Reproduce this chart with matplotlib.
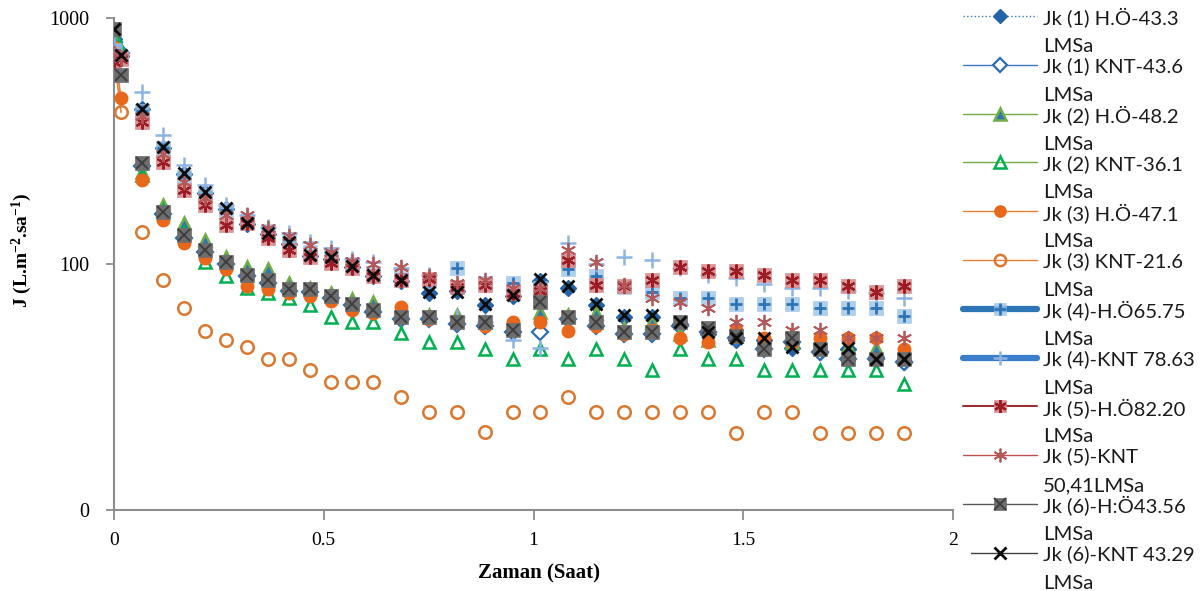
import numpy as np
import matplotlib
matplotlib.use("Agg")
import matplotlib.pyplot as plt
from matplotlib.lines import Line2D

# ---------------- data ----------------
time_min = [0, 1, 4, 7, 10, 13, 16, 19, 22, 25, 28, 31, 34, 37,
            41, 45, 49, 53, 57, 61, 65, 69, 73, 77, 81, 85, 89, 93, 97, 101, 105, 109, 113]

jk1_ho = [820, 700, 425, 297, 232, 195, 168, 145, 132, 121, 108, 105, 97, 89,
          85, 76, 78, 68, 74, 85, 80, 68, 61, 61, 57, 52, 49, 49, 45.6, 44, 45, 42, 40]
jk1_knt = [800, 720, 250, 160, 128, 112, 100, 89, 84, 78, 77, 73, 68, 64,
           60, 60, 57, 56, 53, 53, 60, 56, 52, 52, 56, 53, 50, 45, 48, 44, 41, 41, 40]
jk2_ho = [830, 740, 237, 174, 147, 125, 107, 97, 95, 84, 80, 76, 72, 70,
          63, 62, 62, 58, 55, 64, 62, 63, 55, 58, 52, 49, 51, 48, 48, 46, 46, 45.6, 42]
jk2_knt = [850, 740, 230, 165, 135, 102, 89, 80, 76, 73, 68, 61, 58, 58,
           52.5, 48, 48, 45, 41, 45, 41, 45, 41, 37, 45, 41, 41, 37, 37, 37, 37, 37, 32.5]
jk3_ho = [760, 473, 219, 151, 122, 106, 95, 81.5, 79, 76, 74, 71, 65, 63,
          67, 60, 58, 56, 58, 58, 53.5, 56, 52, 54, 50, 48, 54, 50, 48, 50, 50, 50, 45]
jk3_knt = [700, 415, 135, 86, 66, 53.5, 49, 46, 41, 41, 37, 33, 33, 33,
           28.8, 25, 25, 20.7, 25, 25, 28.8, 25, 25, 25, 25, 25, 20.5, 25, 25, 20.5, 20.5, 20.5, 20.5]
jk4_ho = [740, 690, 420, 295, 225, 190, 165, 150, 136, 126, 112, 110, 100, 92,
          91, 85, 96, 84, 84, 80, 95, 89, 81, 77, 73, 73, 69, 69, 69, 66, 66, 66, 61.5]
jk4_knt = [780, 720, 501, 334, 252, 210, 174, 158, 142, 134, 123, 116, 105, 102,
           96, 90, 61, 58, 49, 45.6, 122, 100, 107, 104, 96, 90, 88, 83, 80, 80, 78, 76, 73]
jk5_ho = [660, 680, 378, 260, 200, 174, 144, 147, 128, 114, 107, 101, 96, 89,
          86, 87, 81, 82, 76, 78, 104, 82, 81.5, 86, 97, 94, 94, 90, 86, 86, 81.5, 77, 81.5]
jk5_knt = [720, 690, 400, 280, 215, 185, 158, 158, 140, 130, 120, 112, 103, 100,
           97, 89, 84, 86, 80, 80, 114, 102, 82, 73, 70, 66, 58, 58, 54, 54, 50, 50, 50]
jk6_ho = [900, 586, 257, 163, 131, 114, 102, 90, 86, 79, 79, 74, 69, 65,
          61, 61, 58, 58, 54, 70, 61, 58, 53, 53, 58, 55, 51, 45, 50, 45, 41, 41, 41]
jk6_knt = [900, 707, 427, 299, 234, 196, 169, 147, 134, 123, 109, 107, 98, 90,
           86, 77, 77, 69, 75, 87, 81.5, 69, 62, 62, 58, 53, 50, 50, 46, 45, 45.5, 41, 41]

series_labels = [
    ("Jk (1) H.Ö-43.3", "LMSa"),
    ("Jk (1) KNT-43.6", "LMSa"),
    ("Jk (2) H.Ö-48.2", "LMSa"),
    ("Jk (2) KNT-36.1", "LMSa"),
    ("Jk (3) H.Ö-47.1", "LMSa"),
    ("Jk (3) KNT-21.6", "LMSa"),
    ("Jk (4)-H.Ö65.75", "LMSa"),
    ("Jk (4)-KNT 78.63", "LMSa"),
    ("Jk (5)-H.Ö82.20", "LMSa"),
    ("Jk (5)-KNT", "50,41LMSa"),
    ("Jk (6)-H:Ö43.56", "LMSa"),
    ("Jk (6)-KNT 43.29", "LMSa"),
]
series_values = [jk1_ho, jk1_knt, jk2_ho, jk2_knt, jk3_ho, jk3_knt,
                 jk4_ho, jk4_knt, jk5_ho, jk5_knt, jk6_ho, jk6_knt]

xticks = [0, 0.5, 1, 1.5, 2]
xtick_labels = ["0", "0.5", "1", "1.5", "2"]
yticks = [10, 100, 1000]
ytick_labels = ["0", "100", "1000"]

# ---------------- styles ----------------
ast = (6, 2, 0)
styles = [
    dict(line=("#3F78C0", ":", 1.0), layers=[("D", 8, "#2563A8", "#2563A8", 1.0, 1.0)]),
    dict(line=("#3F78C0", "-", 1.0), layers=[("D", 8, "white", "#2E6DB4", 1.6, 1.0)]),
    dict(line=("#70AD47", "-", 1.0), layers=[("^", 9, "#2E75B6", "#70AD47", 1.8, 1.0)]),
    dict(line=("#70AD47", "-", 1.0), layers=[("^", 9, "none", "#00B050", 1.8, 1.0)]),
    dict(line=("#ED7D31", "-", 1.0), layers=[("o", 9, "#E8671A", "#E8671A", 1.0, 1.0)]),
    dict(line=("#ED7D31", "-", 1.0), layers=[("o", 9, "none", "#D9782E", 1.8, 1.0)]),
    dict(line=("#2E75B6", "-", 4.5), layers=[("s", 10, "#9DC3E6", "#9DC3E6", 0.5, 0.8),
                                          ("+", 9, "none", "#2E75B6", 2.0, 1.0)]),
    dict(line=("#3A7DC9", "-", 4.5), layers=[("+", 11, "none", "#8DB4E2", 1.8, 1.0)]),
    dict(line=("#A0262C", "-", 1.4), layers=[("s", 10, "#D68A8C", "#D68A8C", 0.5, 0.9),
                                          (ast, 10, "none", "#9B1C24", 1.6, 1.0)]),
    dict(line=("#C0504D", "-", 1.0), layers=[(ast, 11, "none", "#B5585A", 1.3, 1.0)]),
    dict(line=("#595959", "-", 1.0), layers=[("s", 10, "#6E6E6E", "#6E6E6E", 0.5, 1.0),
                                          ("x", 9, "none", "#3F3F3F", 1.4, 1.0)]),
    dict(line=("#404040", "-", 1.0), layers=[("x", 9, "none", "#0D0D0D", 2.0, 1.0)]),
]

plt.rcParams['mathtext.fontset'] = 'custom'
plt.rcParams['mathtext.rm'] = 'Liberation Serif:bold'
plt.rcParams['mathtext.bf'] = 'Liberation Serif:bold'
plt.rcParams['mathtext.default'] = 'bf'

W, H = 1202, 591
fig = plt.figure(figsize=(W / 100, H / 100), dpi=100)
ax = fig.add_axes([114 / W, 81 / H, 839 / W, 492 / H])

hours = np.array(time_min) / 60.0
for vals, st in zip(series_values, styles):
    c, ls, lw = st["line"]
    ax.plot(hours[:2], vals[:2], color=c, ls="-", lw=1.2, zorder=2)
    for (m, ms, fc, ec, mew, a) in st["layers"]:
        ax.plot(hours, vals, ls="none", marker=m, ms=ms, mfc=fc, mec=ec, mew=mew,
                alpha=a, zorder=3)

ax.set_yscale("log")
ax.set_xlim(0, 2)
ax.set_ylim(10, 1000)
ax.minorticks_off()
ax.set_xticks(xticks, labels=xtick_labels, fontfamily="Liberation Serif", fontsize=14)
ax.set_yticks(yticks, labels=ytick_labels, fontfamily="Liberation Serif", fontsize=14.5)
ax.yaxis.set_minor_locator(matplotlib.ticker.NullLocator())
ax.tick_params(axis="x", direction="out", length=7, width=1.3, color="#8C8C8C", pad=9)
ax.tick_params(axis="y", direction="out", length=6, width=1.3, color="#8C8C8C", pad=12)
for s in ["top", "right"]:
    ax.spines[s].set_visible(False)
for s in ["left", "bottom"]:
    ax.spines[s].set_color("#8C8C8C")
    ax.spines[s].set_linewidth(1.5)

ax.set_xlabel("Zaman (Saat)", fontfamily="Liberation Serif", fontweight="bold", fontsize=15)
ax.xaxis.label.set_va("center")
ax.xaxis.set_label_coords(0.5066, -0.13)
ax.set_ylabel(r"J (L.m$^{-2}$.sa$^{-1}$)", fontfamily="Liberation Serif",
              fontweight="bold", fontsize=14)
ax.yaxis.label.set_va("center")
ax.yaxis.set_label_coords(-0.1097, 0.528)

# ---------------- legend (manual) ----------------
def fx(px):
    return px / W

def fy(py):
    return 1 - py / H

for i, (lab, st) in enumerate(zip(series_labels, styles)):
    yc = 16 + i * 48.8
    c, ls, lw = st["line"]
    x0 = 963 if i != 11 else 971
    fig.add_artist(Line2D([fx(x0), fx(1037)], [fy(yc), fy(yc)], transform=fig.transFigure,
                          color=c, ls=ls, lw=lw, solid_capstyle="round"))
    for (m, ms, fc, ec, mew, a) in st["layers"]:
        fig.add_artist(Line2D([fx(1000)], [fy(yc)], transform=fig.transFigure, ls="none",
                              marker=m, ms=ms * 0.9, mfc=fc, mec=ec, mew=mew, alpha=a))
    for k, part in enumerate(lab):
        fig.text(fx(1043), fy(yc + 29 * k), part, ha="left", va="center_baseline",
                 fontfamily="Lato", fontsize=14.6, color="#1A1A1A",
                 transform=fig.transFigure)

fig.savefig("out.png", dpi=100)
